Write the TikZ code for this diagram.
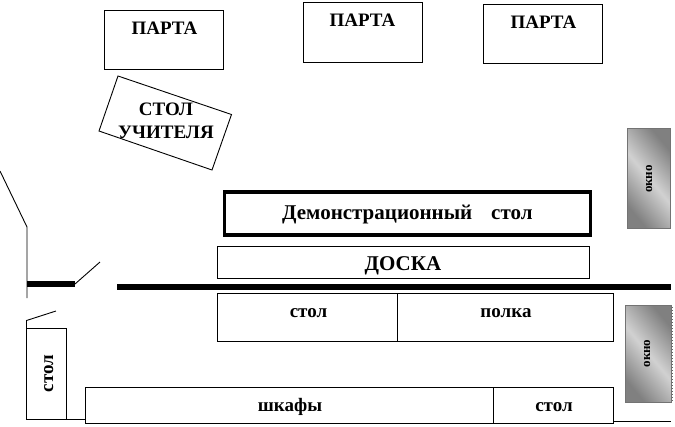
\documentclass[tikz,border=0pt]{standalone}
\usepackage{fontspec}
\setmainfont{Liberation Serif}
\begin{document}
\begin{tikzpicture}[x=1pt,y=-1pt,
  box/.style={draw=black,line width=0.9pt,fill=white,inner sep=0pt,minimum width=0pt},
  lbl/.style={font=\fontsize{19}{20}\selectfont\bfseries,inner sep=0pt,anchor=base},
  lblbig/.style={font=\fontsize{21}{22}\selectfont\bfseries,inner sep=0pt,anchor=base},
  lblsmall/.style={font=\fontsize{19}{20}\selectfont\bfseries,inner sep=0pt,anchor=base},
  lblwin/.style={font=\fontsize{13}{14}\selectfont\bfseries,rotate=90,inner sep=0pt,anchor=base},
  wall/.style={draw=black,line width=0.9pt},
  thick wall/.style={draw=black,line width=6pt},
  windowbox/.style={draw=black!55,line width=0.8pt,top color=black!50,bottom color=black!50,middle color=black!18,shading angle=-50}]
\useasboundingbox (0,0) rectangle (675,426);
% desks
\draw[box] (104.5,10.5) rectangle (223.5,69.5);
\node[lbl] (d1) at (164.5,34) {ПАРТА};
\draw[box] (303.5,2.5) rectangle (422.5,62.5);
\node[lbl] (d2) at (362.5,26) {ПАРТА};
\draw[box] (483.5,4.5) rectangle (602.5,63.5);
\node[lbl] (d3) at (543.5,28) {ПАРТА};
% teacher table
\draw[box] (118,76) -- (231.5,114.5) -- (212,170) -- (99,131) -- cycle;
\node[lbl] (t1) at (166,115) {СТОЛ};
\node[lbl] (t2) at (166,138) {УЧИТЕЛЯ};
% demonstration table
\draw[draw=black,line width=3.2pt] (224.5,192) rectangle (590.5,235);
\node[lblbig,anchor=base west] (demo1) at (282,219) {Демонстрационный};
\node[lblbig,anchor=base west] (demo2) at (491,219) {стол};
% board
\draw[box] (217.5,246.5) rectangle (589.5,278);
\node[lblbig] (doska) at (403,270) {ДОСКА};
\coordinate (a) at (117,287); \coordinate (b) at (671,287);
\draw[thick wall] (a) -- (b);
% table + shelf
\draw[box] (217.5,293.5) rectangle (397.5,341.5);
\draw[box] (397.5,293.5) rectangle (613.5,341.5);
\node[lblsmall] (s1) at (308.5,317) {стол};
\node[lblsmall] (s2) at (506,317) {полка};
% bottom
\draw[box] (26.5,328.5) rectangle (66.5,419.5);
\node[lblsmall,rotate=90] (s3) at (53,373.5) {стол};
\draw[box] (85.5,387.5) rectangle (493.5,423);
\draw[box] (493.5,387.5) rectangle (613.5,423);
\node[lblsmall] (s4) at (290,411) {шкафы};
\node[lblsmall] (s5) at (554,411) {стол};
\coordinate (e) at (66.5,419.5); \coordinate (f) at (85.5,419.5);
\draw[wall] (e) -- (f);
\coordinate (g) at (613.5,421); \coordinate (h) at (671,421);
\draw[wall] (g) -- (h);
% walls and doors
\coordinate (w1) at (0,171); \coordinate (w2) at (27,227); \coordinate (w3) at (27,298);
\draw[wall] (w1) -- (w2) -- (w3);
\coordinate (w4) at (27,284); \coordinate (w5) at (75,284); \coordinate (w6) at (100,262);
\draw[thick wall] (w4) -- (w5);
\draw[wall] (w5) -- (w6);
\coordinate (w7) at (26.5,328.5); \coordinate (w8) at (26.5,320.5); \coordinate (w9) at (56,311);
\draw[wall] (w7) -- (w8) -- (w9);
% windows
\draw[black!60,line width=1pt,dotted] (628,228.5) -- (670.5,228.5) -- (670.5,129);
\draw[windowbox] (627.5,128.5) rectangle (670,228);
\node[lblwin] (o1) at (652,179) {окно};
\draw[black!60,line width=1pt,dotted] (626,402.5) -- (672,402.5) -- (672,306);
\draw[windowbox] (625.5,305.5) rectangle (671.5,402);
\node[lblwin] (o2) at (650,353.5) {окно};
\end{tikzpicture}
\end{document}
